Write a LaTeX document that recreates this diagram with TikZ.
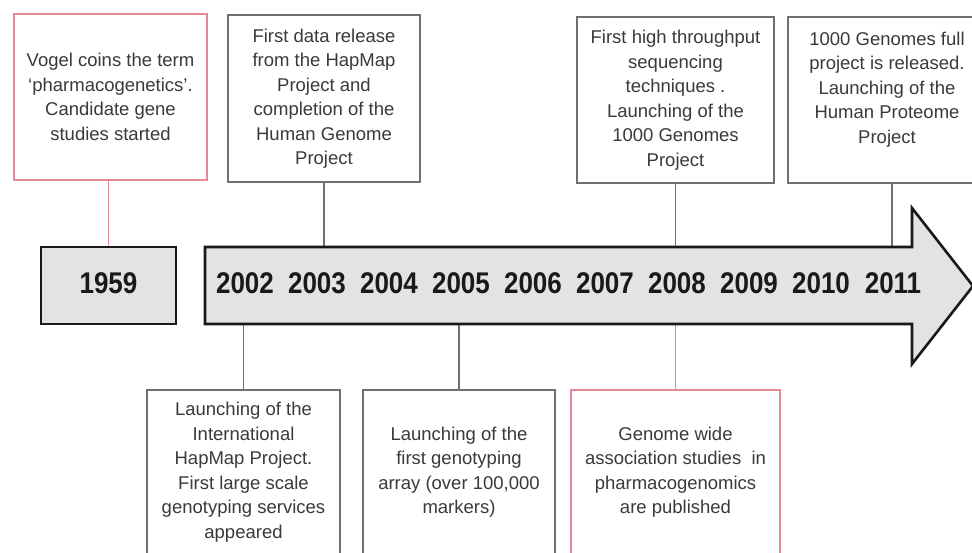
\documentclass[tikz,border=0pt]{standalone}
\usepackage{fontspec}
\setmainfont{Liberation Sans}
\definecolor{boxgray}{HTML}{707070}
\definecolor{pinkc}{HTML}{E58A94}
\definecolor{arrowfill}{HTML}{E2E3E5}
\definecolor{txt}{HTML}{3A3A3A}
\begin{document}
\begin{tikzpicture}[x=1pt,y=-1pt,
  box/.style={draw=boxgray, line width=1.3pt, fill=white, text=txt, align=center, inner sep=0pt,
    font=\fontsize{18.5}{24.5}\selectfont},
  pinkbox/.style={box, draw=pinkc},
  conn/.style={draw=boxgray, line width=1.2pt},
  pinkconn/.style={draw=pinkc, line width=1.2pt},
  yr/.style={font=\fontsize{26}{26}\selectfont\bfseries, text=black!90, inner sep=0pt},
  bar/.style={draw=black!90, line width=2.6pt, fill=arrowfill, line join=miter}]
\useasboundingbox (0,0) rectangle (972,552);
\fill[white] (0,0) rectangle (972,552);

% top boxes
\node[pinkbox, minimum width=193pt, minimum height=166pt] (t1) at (110.5,97)
  {Vogel coins the term\\‘pharmacogenetics’.\\Candidate gene\\studies started};
\node[box, minimum width=192pt, minimum height=167pt] (t2) at (324,98.5)
  {First data release\\from the HapMap\\Project and\\completion of the\\Human Genome\\Project};
\node[box, minimum width=197pt, minimum height=166pt] (t3) at (675.5,100)
  {First high throughput\\sequencing\\techniques .\\Launching of the\\1000 Genomes\\Project};
\node[box, minimum width=198pt, minimum height=166pt] (t4) at (887,100)
  {1000 Genomes full\\project is released.\\Launching of the\\Human Proteome\\Project\\\mbox{}};

% bottom boxes
\node[box, minimum width=193pt, minimum height=164pt] (b1) at (243.5,472)
  {Launching of the\\International\\HapMap Project.\\First large scale\\genotyping services\\appeared};
\node[box, minimum width=192pt, minimum height=164pt] (b2) at (459,472)
  {Launching of the\\first genotyping\\array (over 100,000\\markers)};
\node[pinkbox, minimum width=209pt, minimum height=164pt] (b3) at (675.5,472)
  {Genome wide\\association studies\ \ in\\pharmacogenomics\\are published};

% timeline shapes
\coordinate (st) at (205,247);
\coordinate (sb) at (205,324);
\node[bar, minimum width=135pt, minimum height=77pt, inner sep=0pt] (y1959) at (108.5,285.5) {};
\node[yr] at (108.5,283) {\scalebox{1}[1.15]{1959}};

% connectors
\draw[pinkconn] (y1959.north) -- (y1959.north |- t1.south);
\draw[conn] (t2.south) -- (t2.south |- st);
\draw[conn] (t3.south) -- (t3.south |- st);
\draw[conn] (892,183) coordinate (c4) -- (c4 |- st);
\draw[conn] (b1.north) -- (b1.north |- sb);
\draw[conn] (b2.north) -- (b2.north |- sb);
\draw[pinkconn] (b3.north) -- (b3.north |- sb);

\draw[bar] (st) -- (912,247) -- (912,208) -- (973,286) -- (912,364) -- (912,324) -- (sb) -- cycle;

\foreach \yy [count=\i from 0] in {2002,2003,2004,2005,2006,2007,2008,2009,2010,2011}
  \node[yr] (y\yy) at (245+72*\i,283) {\scalebox{1}[1.15]{\yy}};
\end{tikzpicture}
\end{document}
